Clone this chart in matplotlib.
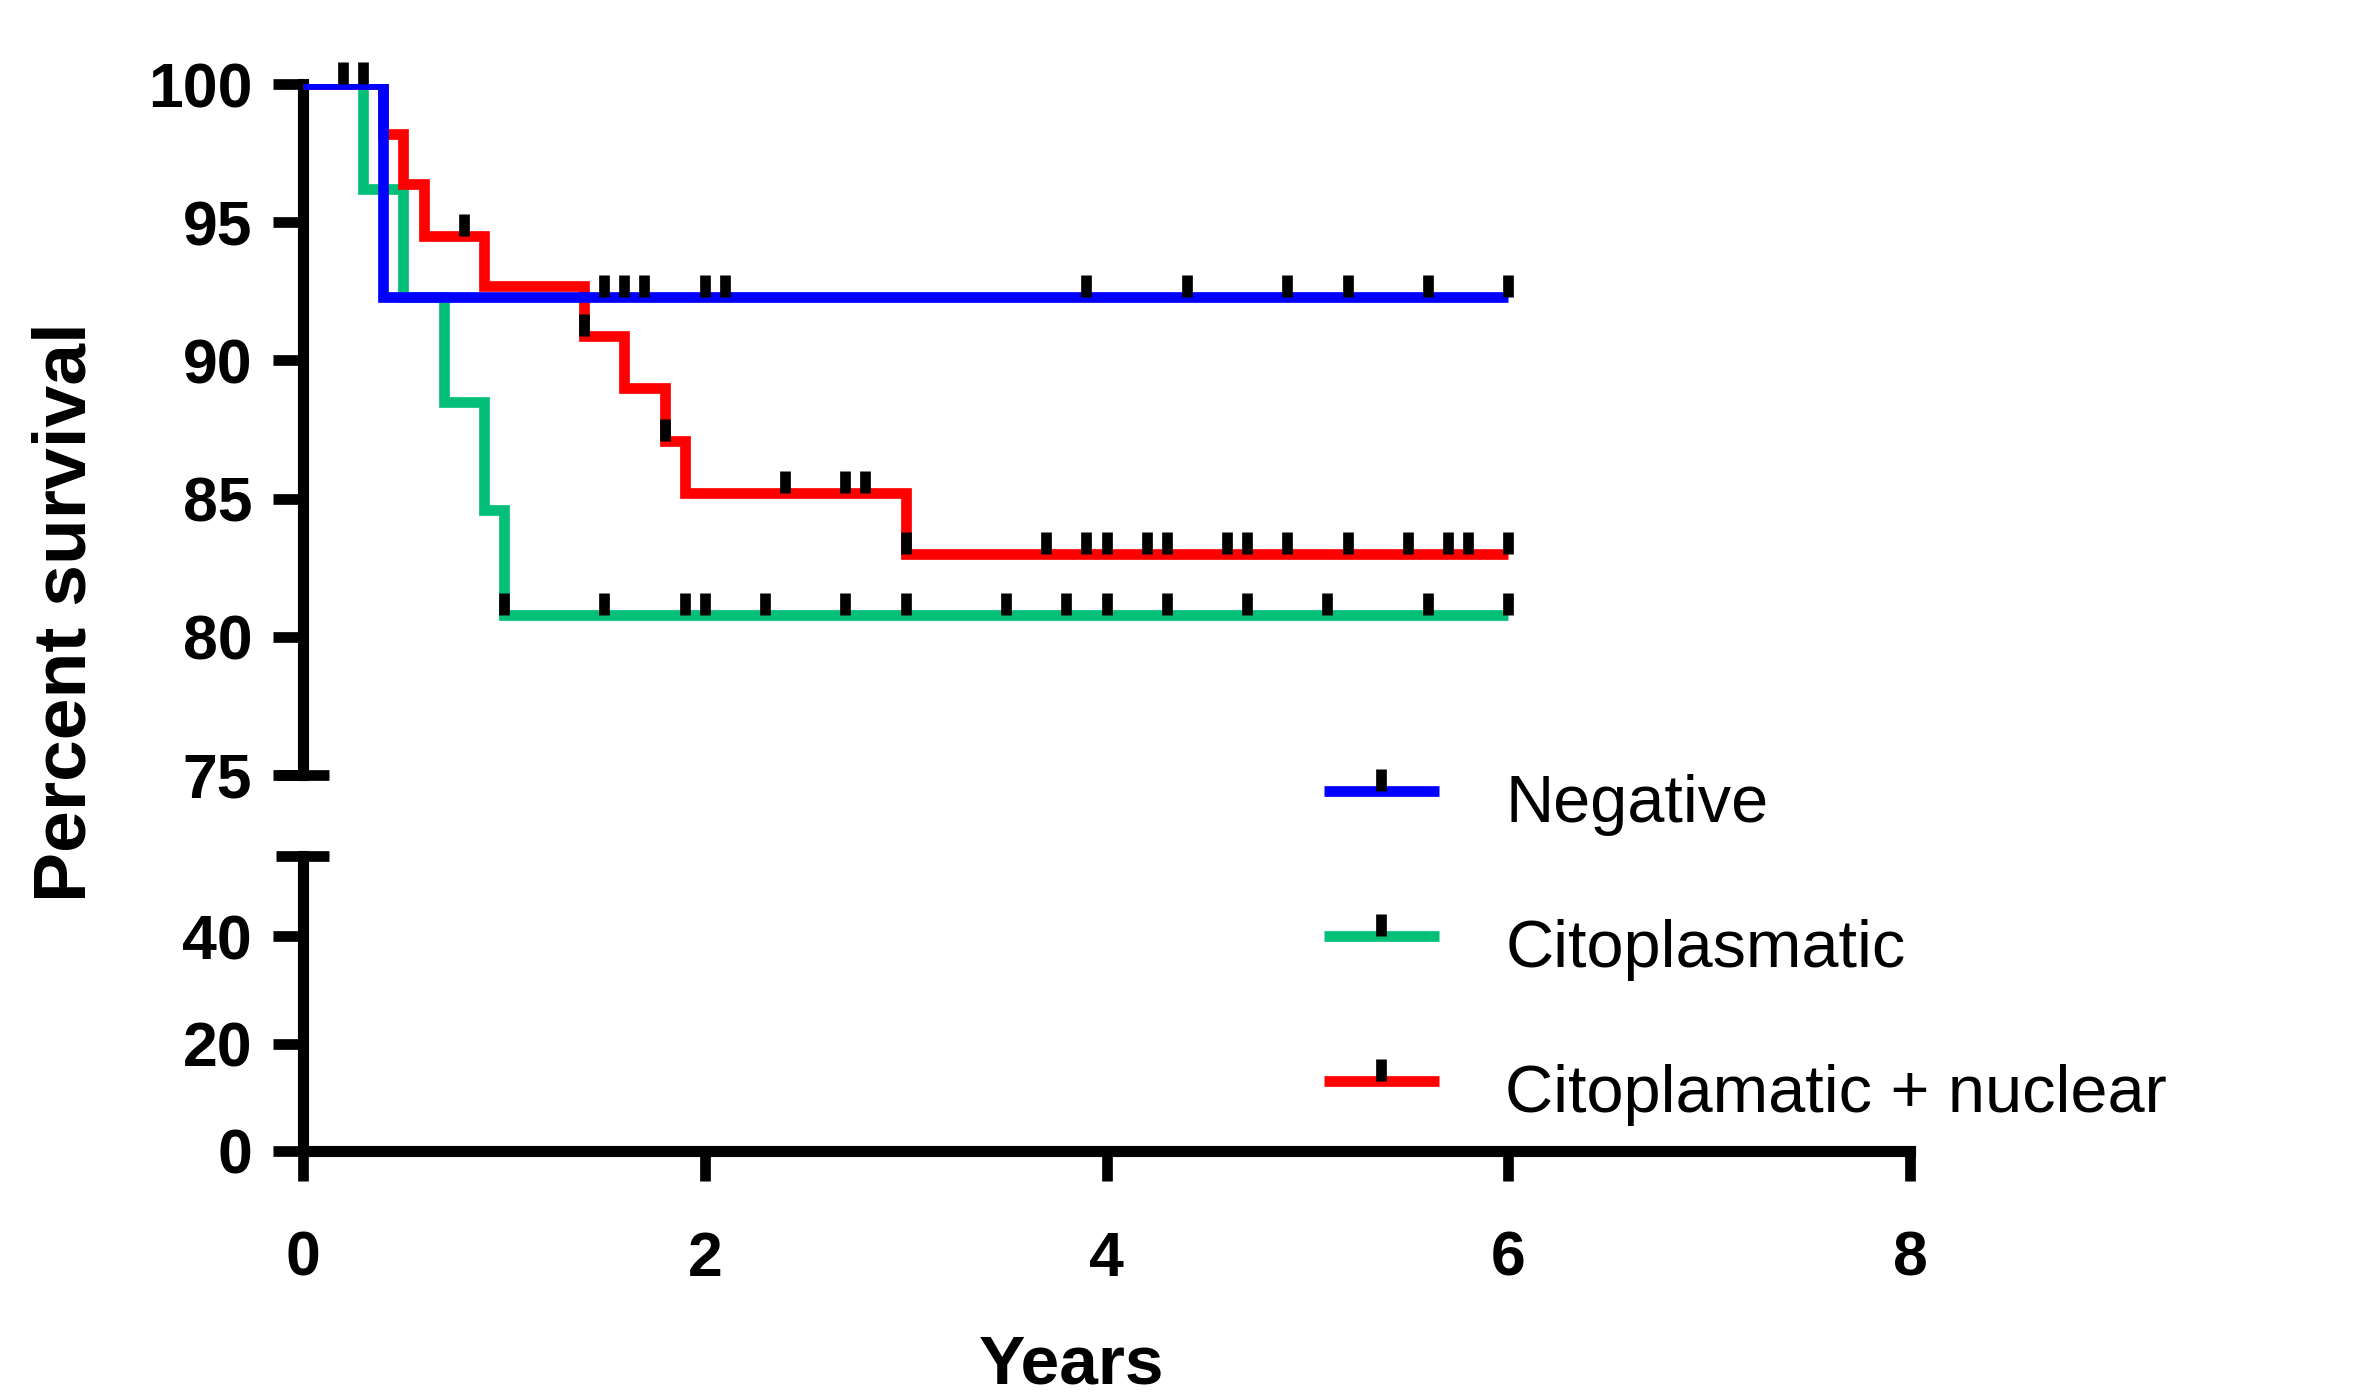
import matplotlib
matplotlib.use("Agg")
import matplotlib.pyplot as plt
import numpy as np
from matplotlib.path import Path
from matplotlib.lines import Line2D
from matplotlib.legend_handler import HandlerLine2D

plt.rcParams['font.family'] = ['Liberation Sans', 'DejaVu Sans']

# ---------------- data ----------------
series_names = ["Negative", "Citoplasmatic", "Citoplamatic + nuclear"]

neg_times = [0, 0.4, 6.0]
neg_surv = [100, 92.3, 92.3]
neg_cens = [1.5, 1.6, 1.7, 2.0, 2.1, 3.9, 4.4, 4.9, 5.2, 5.6, 6.0]

cito_times = [0, 0.3, 0.5, 0.7, 0.9, 1.0, 6.0]
cito_surv = [100, 96.2, 92.3, 88.5, 84.6, 80.8, 80.8]
cito_cens = [1.0, 1.5, 1.9, 2.0, 2.3, 2.7, 3.0, 3.5, 3.8, 4.0, 4.3, 4.7, 5.1, 5.6, 6.0]

cn_times = [0, 0.4, 0.5, 0.6, 0.9, 1.4, 1.6, 1.8, 1.9, 3.0, 6.0]
cn_surv = [100, 98.2, 96.4, 94.5, 92.7, 90.9, 89.0, 87.1, 85.2, 83.0, 83.0]
cn_cens = [0.2, 0.3, 0.8, 1.4, 1.8, 2.4, 2.7, 2.8, 3.0, 3.7, 3.9, 4.0, 4.2, 4.3,
           4.6, 4.7, 4.9, 5.2, 5.5, 5.7, 5.8, 6.0]

x_ticks = [0, 2, 4, 6, 8]
y_ticks_top = [75, 80, 85, 90, 95, 100]
y_ticks_bot = [0, 20, 40]

colors = ['#0000FF', '#03BF78', '#FF0000']

# ---------------- figure ----------------
W, H = 2377, 1399
fig = plt.figure(figsize=(W / 100, H / 100), dpi=100)
left = 303 / W
width = 1607 / W
ax_top = fig.add_axes([left, 1 - 775 / H, width, 691 / H])
ax_bot = fig.add_axes([left, 1 - 1151 / H, width, 295 / H])

cens_marker = Path([(0, 0), (0, 1)], [Path.MOVETO, Path.LINETO])
LW = 7.7
MS = 32
MEW = 7.7
SPW = 8.0
TW = 7.7


def surv_at(times, surv, t):
    idx = np.searchsorted(np.array(times), t, side='right') - 1
    return np.array(surv)[idx]


data = [(neg_times, neg_surv, neg_cens),
        (cito_times, cito_surv, cito_cens),
        (cn_times, cn_surv, cn_cens)]

zorders = [4, 2, 3]
for (t, s, c), col, z in zip(data, colors, zorders):
    ax_top.step(t, s, where='post', color=col, lw=LW, solid_joinstyle='miter',
                solid_capstyle='butt', clip_on=True, zorder=z)
for (t, s, c) in data:
    cy = surv_at(t, s, c)
    ax_top.plot(c, cy, ls='none', marker=cens_marker, ms=MS, mew=MEW,
                color='black', clip_on=False, zorder=6)

# axes setup
for ax in (ax_top, ax_bot):
    ax.set_xlim(0, 8)
    ax.set_facecolor('none')
    for sp in ('top', 'right'):
        ax.spines[sp].set_visible(False)
    ax.spines['left'].set_linewidth(SPW)
    ax.spines['bottom'].set_linewidth(SPW)

ax_top.set_ylim(75, 100)
ax_top.spines['bottom'].set_visible(False)
ax_top.set_xticks([])
ax_top.set_yticks(y_ticks_top)
ax_top.tick_params(axis='y', length=21.6, width=TW, labelsize=45, pad=15)

ax_bot.set_ylim(0, 55)
ax_bot.set_yticks(y_ticks_bot)
ax_bot.set_xticks(x_ticks)
ax_bot.tick_params(axis='y', length=21.6, width=TW, labelsize=45, pad=15)
ax_bot.tick_params(axis='x', length=21.6, width=TW, labelsize=45, pad=35)

for ax in (ax_top, ax_bot):
    for lbl in ax.get_xticklabels() + ax.get_yticklabels():
        lbl.set_fontweight('bold')

# axis break marks
ax_top.plot([-0.0168, 0.0162], [75, 75], transform=ax_top.get_yaxis_transform(),
            color='black', lw=TW, clip_on=False, solid_capstyle='butt')
ax_bot.plot([-0.0168, 0.0162], [55, 55], transform=ax_bot.get_yaxis_transform(),
            color='black', lw=TW, clip_on=False, solid_capstyle='butt')

# labels
fig.text(66 / W, 1 - 612 / H, 'Percent survival', rotation=90, ha='center',
         va='center', fontsize=54, fontweight='bold')
ax_bot.set_xlabel('Years', fontsize=50, fontweight='bold')
ax_bot.xaxis.set_label_coords(0.4785, -0.618)


# legend: handle line sits slightly above the text centre
class RaisedLine(HandlerLine2D):
    def create_artists(self, legend, orig_handle, xdescent, ydescent, width,
                       height, fontsize, trans):
        return super().create_artists(legend, orig_handle, xdescent,
                                      ydescent - 11.0, width, height,
                                      fontsize, trans)


handles = [Line2D([], [], color=col, lw=LW, marker=cens_marker, ms=MS, mew=MEW,
                  mec='black', mfc='black', solid_capstyle='butt') for col in colors]
fig.legend(handles, series_names, loc='center left',
           bbox_to_anchor=(1324 / W, 1 - 950 / H), frameon=False, fontsize=48,
           handlelength=1.72, handletextpad=1.0, labelspacing=1.24,
           borderpad=0, borderaxespad=0, numpoints=1,
           handler_map={Line2D: RaisedLine(numpoints=1)})

fig.savefig('out.png', dpi=100)
